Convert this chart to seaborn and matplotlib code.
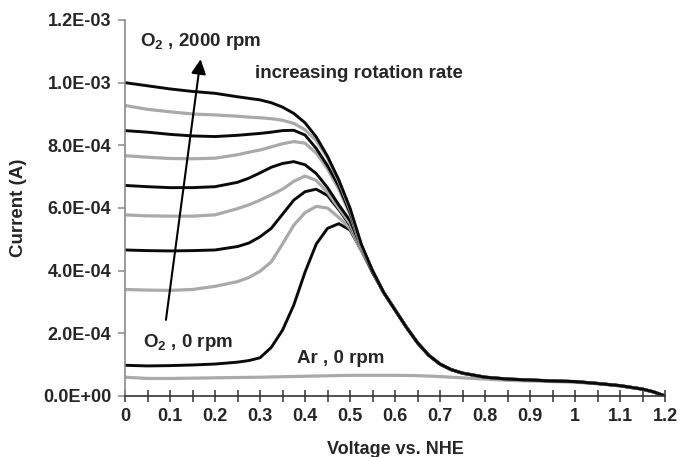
import numpy as np
import pandas as pd
import matplotlib
matplotlib.use("Agg")
import matplotlib.pyplot as plt
import seaborn as sns

# ---------------- data (current in units of 1e-4 A) ----------------
x_head = [0, 0.05, 0.1, 0.15, 0.2, 0.25, 0.275, 0.3, 0.325, 0.35, 0.375,
          0.4, 0.425, 0.45, 0.475, 0.5, 0.525, 0.55]
x_tail = [0.575, 0.6, 0.625, 0.65, 0.675, 0.7, 0.725, 0.75, 0.8, 0.85, 0.9,
          0.95, 1.0, 1.05, 1.1, 1.15, 1.175, 1.2]
tail_o2 = [3.3, 2.75, 2.2, 1.7, 1.3, 1.02, 0.84, 0.73, 0.6, 0.54, 0.51,
           0.48, 0.46, 0.4, 0.33, 0.22, 0.13, 0.0]

o2_0rpm = [0.98, 0.96, 0.97, 0.99, 1.02, 1.08, 1.13, 1.22, 1.55, 2.1, 2.9,
           3.95, 4.85, 5.35, 5.5, 5.3, 4.65, 3.95]
o2_r1 = [3.4, 3.38, 3.37, 3.4, 3.5, 3.65, 3.78, 3.98, 4.28, 4.85, 5.45,
         5.85, 6.05, 6.0, 5.7, 5.35, 4.65, 3.95]
o2_r2 = [4.66, 4.64, 4.63, 4.64, 4.66, 4.77, 4.88, 5.08, 5.35, 5.8, 6.25,
         6.52, 6.6, 6.4, 5.95, 5.45, 4.7, 3.95]
o2_r3 = [5.78, 5.75, 5.74, 5.74, 5.78, 5.98, 6.1, 6.25, 6.42, 6.6, 6.85,
         7.02, 6.88, 6.5, 6.0, 5.5, 4.7, 3.95]
o2_r4 = [6.72, 6.68, 6.65, 6.65, 6.68, 6.82, 6.95, 7.12, 7.3, 7.42, 7.48,
         7.38, 7.1, 6.65, 6.1, 5.6, 4.75, 3.95]
o2_r5 = [7.67, 7.62, 7.58, 7.57, 7.59, 7.7, 7.78, 7.85, 7.95, 8.05, 8.12,
         8.07, 7.75, 7.25, 6.6, 5.8, 4.75, 4.0]
o2_r6 = [8.47, 8.42, 8.35, 8.3, 8.28, 8.32, 8.35, 8.38, 8.42, 8.47, 8.48,
         8.33, 7.9, 7.35, 6.7, 5.85, 4.8, 4.0]
o2_r7 = [9.27, 9.15, 9.07, 9.0, 8.97, 8.93, 8.9, 8.88, 8.85, 8.8, 8.7,
         8.5, 8.15, 7.6, 6.85, 5.95, 4.8, 4.0]
o2_2000rpm = [10.0, 9.9, 9.8, 9.72, 9.66, 9.55, 9.5, 9.45, 9.36, 9.22, 9.02,
              8.72, 8.27, 7.65, 6.9, 6.0, 4.85, 4.0]

x_ar = [0, 0.05, 0.1, 0.15, 0.2, 0.3, 0.4, 0.5, 0.6, 0.65, 0.7, 0.75, 0.8,
        0.85, 0.9, 0.95, 1.0, 1.05, 1.1, 1.15, 1.175, 1.2]
ar_0rpm = [0.6, 0.56, 0.56, 0.57, 0.58, 0.6, 0.63, 0.66, 0.66, 0.65, 0.62,
           0.58, 0.54, 0.5, 0.48, 0.46, 0.44, 0.39, 0.32, 0.21, 0.12, 0.0]

x_ticks = [0, 0.1, 0.2, 0.3, 0.4, 0.5, 0.6, 0.7, 0.8, 0.9, 1, 1.1, 1.2]
x_tick_labels = ["0", "0.1", "0.2", "0.3", "0.4", "0.5", "0.6", "0.7",
                 "0.8", "0.9", "1", "1.1", "1.2"]
y_ticks = [0, 2e-4, 4e-4, 6e-4, 8e-4, 1e-3, 1.2e-3]
y_tick_labels = ["0.0E+00", "2.0E-04", "4.0E-04", "6.0E-04", "8.0E-04",
                 "1.0E-03", "1.2E-03"]

series = [
    ("Ar 0", x_ar, ar_0rpm, "gray"),
    ("O2 0", x_head + x_tail, o2_0rpm + tail_o2, "black"),
    ("O2 r1", x_head + x_tail, o2_r1 + tail_o2, "gray"),
    ("O2 r2", x_head + x_tail, o2_r2 + tail_o2, "black"),
    ("O2 r3", x_head + x_tail, o2_r3 + tail_o2, "gray"),
    ("O2 r4", x_head + x_tail, o2_r4 + tail_o2, "black"),
    ("O2 r5", x_head + x_tail, o2_r5 + tail_o2, "gray"),
    ("O2 r6", x_head + x_tail, o2_r6 + tail_o2, "black"),
    ("O2 r7", x_head + x_tail, o2_r7 + tail_o2, "gray"),
    ("O2 2000", x_head + x_tail, o2_2000rpm + tail_o2, "black"),
]

rows = []
for name, xs, ys, col in series:
    for xv, yv in zip(xs, ys):
        rows.append({"V": xv, "I": yv * 1e-4, "curve": name})
df = pd.DataFrame(rows)
palette = {name: ("#0a0a0a" if col == "black" else "#aaaaaa")
           for name, _, _, col in series}

# ---------------- style ----------------
sns.set_style("white")
plt.rcParams["font.family"] = ["Liberation Sans", "DejaVu Sans"]
plt.rcParams["font.weight"] = "bold"
plt.rcParams["mathtext.fontset"] = "custom"
plt.rcParams["mathtext.rm"] = "Liberation Sans:bold"
plt.rcParams["mathtext.bf"] = "Liberation Sans:bold"
plt.rcParams["mathtext.default"] = "rm"

fig = plt.figure(figsize=(6.81, 4.57), dpi=100)
ax = fig.add_axes([125 / 681, 61 / 457, 540 / 681, 376 / 457])

for name, _, _, col in series:
    sub = df[df["curve"] == name]
    sns.lineplot(data=sub, x="V", y="I", color=palette[name], sort=False,
                 estimator=None, lw=2.3 if col == "gray" else 2.1, ax=ax,
                 legend=False)

ax.set_xlim(0, 1.2)
ax.set_ylim(0, 1.2e-3)
ax.set_xticks(x_ticks)
ax.set_xticklabels(x_tick_labels)
ax.set_xticks(np.arange(0.05, 1.2, 0.1), minor=True)
ax.set_yticks(y_ticks)
ax.set_yticklabels(y_tick_labels)

for s in ["top", "right"]:
    ax.spines[s].set_visible(False)
ax.spines["left"].set_color("#8a8a8a")
ax.spines["left"].set_linewidth(1.2)
ax.spines["bottom"].set_color("#333333")
ax.spines["bottom"].set_linewidth(1.2)

ax.tick_params(axis="x", which="both", direction="inout", length=9,
               width=1.1, color="#333333", pad=4, labelsize=13)
ax.tick_params(axis="y", which="major", direction="out", length=5,
               width=1.1, color="#8a8a8a", pad=5, labelsize=13, left=True)
ax.tick_params(axis="x", which="major", bottom=True)
ax.tick_params(axis="x", which="minor", bottom=True)
for lab in ax.get_xticklabels() + ax.get_yticklabels():
    lab.set_fontweight("bold")

ax.set_xlabel("Voltage vs. NHE", fontsize=13, fontweight="bold")
ax.set_ylabel("Current (A)", fontsize=13.5, fontweight="bold")
ax.xaxis.set_label_coords(0.5, -0.12)
ax.yaxis.set_label_coords(-0.182, 0.5)

fs = 13.5
ax.text(0.033, 11.3e-4, r"O$_2$ , 2000 rpm", fontsize=fs, fontweight="bold",
        va="center", ha="left")
ax.text(0.289, 10.3e-4, "increasing rotation rate", fontsize=fs,
        fontweight="bold", va="center", ha="left")
ax.text(0.04, 1.7e-4, r"O$_2$ , 0 rpm", fontsize=fs, fontweight="bold",
        va="center", ha="left")
ax.text(0.382, 1.21e-4, "Ar , 0 rpm", fontsize=fs, fontweight="bold",
        va="center", ha="left")

ax.annotate("", xy=(0.168, 10.75e-4), xytext=(0.091, 2.43e-4),
            arrowprops=dict(arrowstyle="-|>", color="black", lw=1.5,
                            mutation_scale=22, shrinkA=0, shrinkB=0))

fig.savefig("out.png", dpi=100)
